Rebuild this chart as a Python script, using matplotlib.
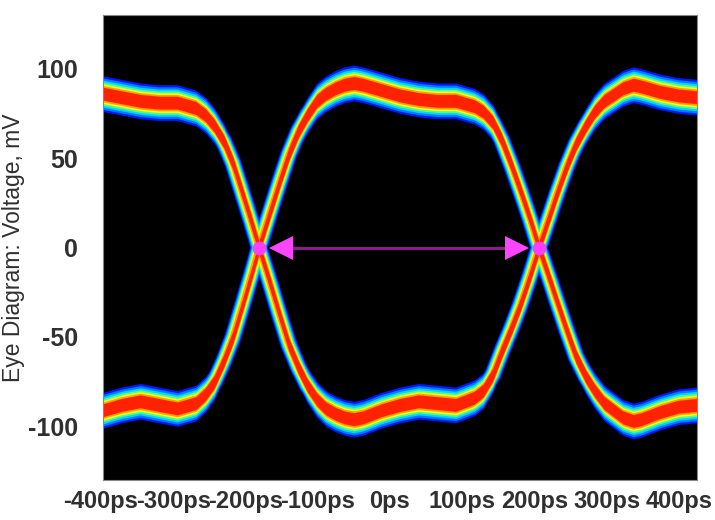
import numpy as np
import matplotlib
matplotlib.use("Agg")
import matplotlib.pyplot as plt
from matplotlib.transforms import ScaledTranslation

# time axis of the eye (ps) and the two traced trajectories (mV)
t_ps = [-400, -375, -350, -325, -300, -275, -262, -250, -237, -225, -212, -200, -190,
        -175, -162, -150, -137, -125, -112, -100, -87, -75, -62, -50, -25, 0, 25, 50,
        75, 100, 112, 125, 137, 150, 162, 175, 187, 200, 212, 225, 237, 250, 262, 275,
        300, 314, 325, 350, 375, 400]
trace_hi_lo = [86, 84, 82, 81, 81, 78, 74, 68, 59, 47, 30, 14, 0,
               -20, -38, -54, -67, -77, -85, -90, -93, -95, -96, -95, -91, -88, -86, -87,
               -88, -84, -80, -71, -58, -45, -32, -16, 0, 16, 31, 46, 58, 68, 76, 82,
               89, 91, 90, 87, 85, 84]
trace_lo_hi = [-91, -88, -86, -88, -90, -87, -82, -75, -63, -50, -32, -15, 0,
               20, 37, 52, 65, 74, 82, 86, 89, 91, 92, 91, 88, 85, 83, 82,
               82, 79, 76, 70, 60, 46, 32, 16, 0, -16, -31, -47, -61, -72, -80, -87,
               -95, -97, -96, -92, -89, -88]
cross_ps = [-190, 187]

x_ticks = [-400, -300, -200, -100, 0, 100, 200, 300, 400]
x_labels = ["-400ps", "-300ps", "-200ps", "-100ps", "0ps", "100ps", "200ps", "300ps", "400ps"]
y_ticks = [-100, -50, 0, 50, 100]
y_labels = ["-100", "-50", "0", "50", "100"]

plt.rcParams['font.family'] = ['Liberation Sans', 'DejaVu Sans']

fig = plt.figure(figsize=(7.15, 5.2), dpi=100)
ax = fig.add_axes([103 / 715, 40 / 520, 594 / 715, 465 / 520])
ax.set_facecolor('black')

# density-like colour bands: (colour, vertical half width in mV, line width in px)
layers = [
    ('#0018ff', 10.0, 17),
    ('#0078ff', 8.8, 15),
    ('#00d4ff', 7.6, 13),
    ('#50ff90', 6.5, 11),
    ('#f4ff10', 5.5, 9),
    ('#ffa000', 4.6, 6),
    ('#ff2200', 3.6, 0),
]
t = np.array(t_ps)
for i, (color, dv, lw) in enumerate(layers):
    z = 1 + i * 0.1
    for tr in (trace_hi_lo, trace_lo_hi):
        v = np.array(tr)
        ax.fill_between(t, v - dv, v + dv, color=color, lw=0, zorder=z)
        if lw:
            ax.plot(t, v, color=color, lw=lw * 0.72, zorder=z,
                    solid_capstyle='butt', solid_joinstyle='round')

# eye width arrow between the crossing points
left, right = cross_ps
ax.plot([left + 30, right - 30], [0, 0], color='#8a1e8a', lw=2.2, zorder=5)
ax.plot([left + 30], [0], marker='<', ms=17, color='#ff44ff', mew=0, zorder=6)
ax.plot([right - 30], [0], marker='>', ms=17, color='#ff44ff', mew=0, zorder=6)
ax.plot(cross_ps, [0, 0], 'o', ms=10, color='#ff3cff', mew=0, zorder=7)

ax.set_xlim(-400, 400)
ax.set_ylim(-130, 130)
ax.set_xticks(x_ticks)
ax.set_xticklabels(x_labels)
ax.set_yticks(y_ticks)
ax.set_yticklabels(y_labels)
ax.tick_params(length=0, labelsize=18, colors='#303030')
ax.tick_params(axis='x', labelsize=17, pad=7)
ax.tick_params(axis='y', pad=18)
for lab in ax.get_xticklabels() + ax.get_yticklabels():
    lab.set_fontweight('bold')
# the x labels sit a little left of their ticks in the original
for lab, tk in zip(ax.get_xticklabels(), x_ticks):
    dx = -10 - 0.02 * tk
    lab.set_transform(lab.get_transform() + ScaledTranslation(dx / 100, 0, fig.dpi_scale_trans))
ax.set_ylabel('Eye Diagram: Voltage, mV', fontsize=16.5, color='#303030', labelpad=2)
for s in ax.spines.values():
    s.set_color('#888888')

fig.savefig('out.png', dpi=100)
